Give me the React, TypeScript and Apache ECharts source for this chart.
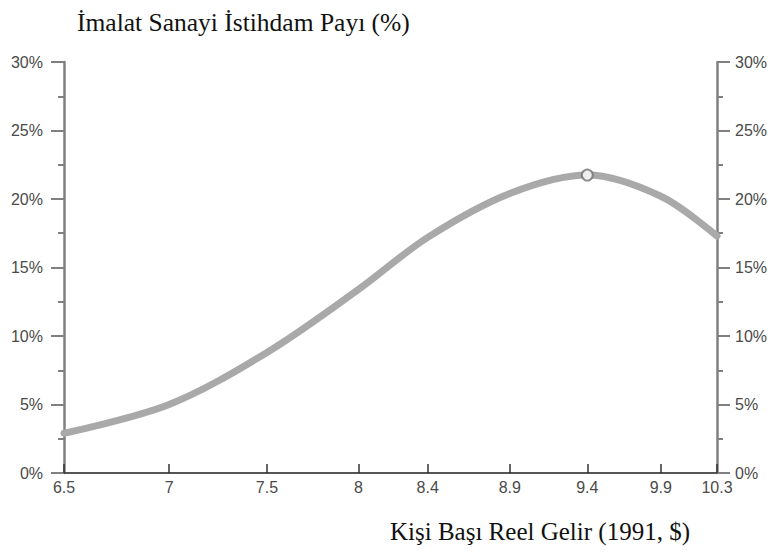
import React, { useEffect, useRef } from "react";
import * as echarts from "echarts";

const titleText = "İmalat Sanayi İstihdam Payı (%)";
const xAxisTitle = "Kişi Başı Reel Gelir (1991, $)";

const xTicks = [6.5, 7, 7.5, 8, 8.4, 8.9, 9.4, 9.9, 10.3];
const xTickLabels = ["6.5", "7", "7.5", "8", "8.4", "8.9", "9.4", "9.9", "10.3"];

const curveX = [6.5, 7, 7.5, 8, 8.4, 8.9, 9.4, 9.9, 10.3];
const curveY = [2.9, 5.0, 8.8, 13.4, 17.2, 20.4, 21.75, 20.2, 17.3];

const peakX = [9.4];
const peakY = [21.75];

const yMin = 0;
const yMax = 30;
const yStep = 5;

export default function App() {
  const ref = useRef<HTMLDivElement>(null);

  useEffect(() => {
    if (!ref.current) return;
    const chart = echarts.init(ref.current, null, { renderer: "svg" });

    const labelFor = (v: number) => {
      let best = 0;
      let bd = Infinity;
      xTicks.forEach((t, i) => {
        const d = Math.abs(t - v);
        if (d < bd) {
          bd = d;
          best = i;
        }
      });
      return xTickLabels[best];
    };

    const labelStyle = {
      color: "#4a4a4a",
      fontFamily: "Liberation Sans, Arial, sans-serif",
      fontSize: 16,
    };

    const yCommon = {
      type: "value",
      min: yMin,
      max: yMax,
      interval: yStep,
      splitLine: { show: false },
      axisLine: { show: true, lineStyle: { color: "#808080", width: 2.5 } },
      axisTick: { show: true, inside: false, length: 13, lineStyle: { color: "#808080", width: 2 } },
      minorTick: { show: true, splitNumber: 2, length: 6, lineStyle: { color: "#808080", width: 2 } },
      minorSplitLine: { show: false },
    };

    const titleStyle = {
      fontFamily: "Liberation Serif, Times New Roman, serif",
      fontSize: 25.5,
      fontWeight: "normal",
      color: "#111",
    };

    chart.setOption({
      animation: false,
      backgroundColor: "#ffffff",
      title: [
        { text: titleText, left: 72, top: 4, textStyle: titleStyle },
        { text: xAxisTitle, left: 385, top: 514, textStyle: { ...titleStyle, fontSize: 25 } },
      ],
      grid: { left: 64, right: 55, top: 62, bottom: 80, containLabel: false, outerBoundsMode: "none" },
      xAxis: [
        {
          type: "log",
          logBase: Math.E,
          min: xTicks[0],
          max: xTicks[xTicks.length - 1],
          position: "bottom",
          splitLine: { show: false },
          axisLine: { show: true, lineStyle: { color: "#333", width: 1.5 } },
          axisTick: {
            show: true,
            inside: true,
            length: 9,
            customValues: xTicks,
            lineStyle: { color: "#333", width: 1.5 },
          },
          axisLabel: {
            ...labelStyle,
            margin: 6,
            customValues: xTicks,
            formatter: (v: number) => labelFor(v),
          },
          minorTick: { show: false },
        },
        {
          type: "log",
          logBase: Math.E,
          min: xTicks[0],
          max: xTicks[xTicks.length - 1],
          position: "top",
          splitLine: { show: false },
          axisLine: { show: true, lineStyle: { color: "#555", width: 2 } },
          axisTick: { show: false },
          axisLabel: { show: false },
          minorTick: { show: false },
        },
      ],
      yAxis: [
        {
          ...yCommon,
          position: "left",
          axisLabel: { ...labelStyle, margin: 21, formatter: "{value}%" },
        },
        {
          ...yCommon,
          position: "right",
          axisLabel: { ...labelStyle, margin: 18, formatter: "{value}%" },
        },
      ],
      series: [
        {
          type: "line",
          xAxisIndex: 0,
          yAxisIndex: 0,
          data: curveX.map((x, i) => [x, curveY[i]]),
          smooth: 0.33,
          showSymbol: false,
          symbol: "none",
          lineStyle: { color: "#a9a9a9", width: 7, cap: "round" },
          z: 3,
        },
        {
          type: "scatter",
          xAxisIndex: 0,
          yAxisIndex: 0,
          data: peakX.map((x, i) => [x, peakY[i]]),
          symbol: "circle",
          symbolSize: 11,
          itemStyle: { color: "#ffffff", borderColor: "#707070", borderWidth: 2 },
          z: 5,
        },
      ],
    });

    return () => chart.dispose();
  }, []);

  return (
    <div
      ref={ref}
      style={{ position: "fixed", left: 0, top: 0, width: 772, height: 553 }}
    />
  );
}
